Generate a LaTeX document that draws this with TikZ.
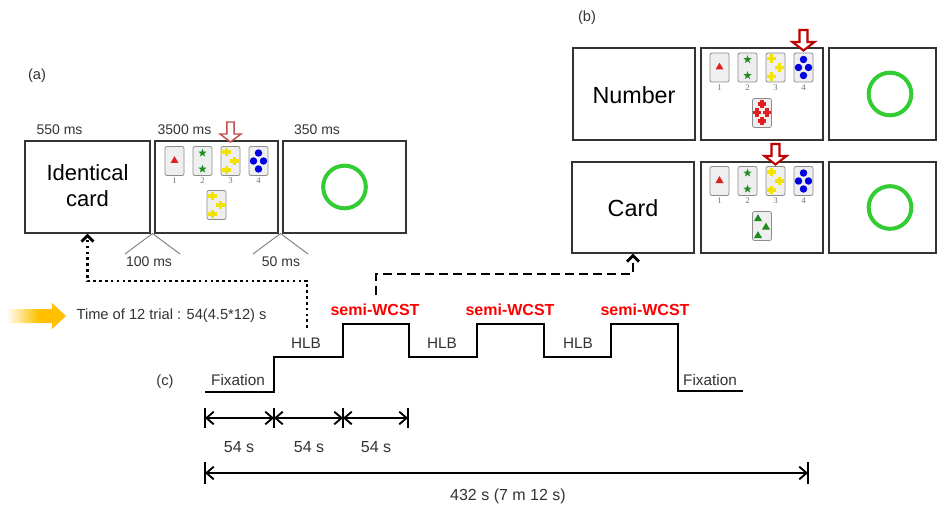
\documentclass[tikz,border=0pt]{standalone}
\usepackage{fontspec}
\setmainfont{Liberation Sans}
\newfontfamily\numfont{Liberation Serif}
\usetikzlibrary{arrows.meta,calc}
\definecolor{boxgray}{HTML}{333333}
\definecolor{txtgray}{HTML}{333333}
\definecolor{cardfill}{HTML}{EFEFEF}
\definecolor{cardedge}{HTML}{8C8C8C}
\definecolor{ringgreen}{HTML}{33CC33}
\definecolor{symred}{HTML}{E02020}
\definecolor{symgreen}{HTML}{1E8C1E}
\definecolor{symyellow}{HTML}{F2E400}
\definecolor{symblue}{HTML}{0000E0}
\definecolor{arrowA}{HTML}{C0504D}
\definecolor{arrowB}{HTML}{C00000}
\definecolor{fadeorange}{HTML}{FFC000}
\definecolor{wedgegray}{HTML}{7F7F7F}
\definecolor{semired}{HTML}{FF0000}
\pgfdeclarehorizontalshading{yelfade}{100bp}{color(0bp)=(white); color(25bp)=(white); color(52bp)=(fadeorange); color(100bp)=(fadeorange)}
\tikzset{
  screen/.style={draw=boxgray, line width=1.1pt, fill=white, inner sep=0pt, minimum height=69pt},
  lbl/.style={text=txtgray, font=\fontsize{11}{13}\selectfont, inner sep=1pt},
  tlbl/.style={text=txtgray, font=\fontsize{10.5}{12}\selectfont, inner sep=1pt},
  biglbl/.style={font=\fontsize{16.5}{19.5}\selectfont, align=center},
  steplbl/.style={text=txtgray, font=\fontsize{11.5}{13}\selectfont, inner sep=1pt},
  semilbl/.style={text=semired, font=\bfseries\fontsize{12}{14}\selectfont, inner sep=1pt},
  dimlbl/.style={text=txtgray, font=\fontsize{12}{14}\selectfont, inner sep=1pt},
  cardnum/.style={text=txtgray!70, font=\numfont\fontsize{6.5}{7}\selectfont, inner sep=0pt},
  wedge/.style={draw=wedgegray, line width=0.7pt},
  ring/.style={draw=ringgreen, line width=3pt},
  timeline/.style={draw=black, line width=2.2pt, line join=miter},
  dimline/.style={draw=black, line width=1.4pt, {Straight Barb[length=5.5pt,width=9.5pt]}-{Straight Barb[length=5.5pt,width=9.5pt]}},
  dimtick/.style={draw=black, line width=1.4pt},
  dotconn/.style={draw=black, line width=2.1pt, dash pattern=on 2pt off 2.4pt, -{Straight Barb[length=4.5pt,width=9pt,line width=2pt]}},
  dashconn/.style={draw=black, line width=2.1pt, dash pattern=on 7pt off 3.5pt, -{Straight Barb[length=4.5pt,width=9pt,line width=2pt]}},
  pics/card/.style={code={\draw[cardedge, fill=cardfill, rounded corners=1.5pt, line width=0.6pt] (-9.5,-14.5) rectangle (9.5,14.5);}},
  pics/trisym/.style={code={\fill[#1] (0,-3.8) -- (4,3) -- (-4,3) -- cycle;}},
  pics/starsym/.style={code={\fill[symgreen] (-90:4.3) -- (-54:1.8) -- (-18:4.3) -- (18:1.8) -- (54:4.3) -- (90:1.8) -- (126:4.3) -- (162:1.8) -- (198:4.3) -- (234:1.8) -- cycle;}},
  pics/plussym/.style={code={\fill[#1] (-1.7,-4.4) rectangle (1.7,4.4); \fill[#1] (-4.4,-1.7) rectangle (4.4,1.7);}},
  pics/dotsym/.style={code={\fill[symblue] (0,0) circle[radius=2.8pt];}},
  pics/hollowA/.style={code={\draw[arrowA, fill=white, line width=1.1pt, line join=miter] (-3.7,0) -- (3.7,0) -- (3.7,12) -- (10.5,12) -- (0,20) -- (-10.5,12) -- (-3.7,12) -- cycle;}},
  pics/hollowB/.style={code={\draw[arrowB, fill=white, line width=1.6pt, line join=miter] (-4,0) -- (4,0) -- (4,12) -- (11,12) -- (0,20.5) -- (-11,12) -- (-4,12) -- cycle;}}
}
\newcommand{\stimrow}[3]{%
  \foreach \k in {0,1,2,3} {\pic at ({#2+28*\k},#3) {card};}
  \pic at (#2,{#3-1}) {trisym=symred};
  \pic at ({#2+28},{#3-8}) {starsym};
  \pic at ({#2+28},{#3+8}) {starsym};
  \pic at ({#2+52},{#3-9}) {plussym=symyellow};
  \pic at ({#2+60},#3) {plussym=symyellow};
  \pic at ({#2+52},{#3+9}) {plussym=symyellow};
  \pic at ({#2+84},{#3-8}) {dotsym};
  \pic at ({#2+79},#3) {dotsym};
  \pic at ({#2+89},#3) {dotsym};
  \pic at ({#2+84},{#3+8}) {dotsym};
  \foreach \k in {1,2,3,4} {\node[cardnum] (#1n\k) at ({#2+28*(\k-1)},{#3+20}) {\k};}
}
\begin{document}
\begin{tikzpicture}[x=0.75pt,y=-0.75pt]
\useasboundingbox (0,0) rectangle (940,510);
\fill[white] (0,0) rectangle (940,510);

% ---------- panel labels
\node[lbl] (la) at (37,76) {(a)};
\node[lbl] (lb) at (587,18) {(b)};
\node[lbl] (lc) at (165,382) {(c)};

% ---------- panel (a)
\node[screen, minimum width=93.75pt] (ident) at (87.5,187) {};
\node[biglbl] (identtxt) at (87.5,186) {Identical\\card};
\node[screen, minimum width=92.25pt] (stimA) at (216.5,187) {};
\node[screen, minimum width=92.25pt] (fbA) at (344.5,187) {};
\node[tlbl] (t550) at (59.5,130) {550 ms};
\node[tlbl] (t3500) at (184.5,130) {3500 ms};
\node[tlbl] (t350) at (317,130) {350 ms};
\draw[ring] (fbA.center) circle[radius=16pt];
\stimrow{a}{174.5}{161}
\pic at (216.5,205) {card};
\pic at (212.5,196) {plussym=symyellow};
\pic at (220.5,205) {plussym=symyellow};
\pic at (212.5,214) {plussym=symyellow};
\pic at (230.5,122) {hollowA};

\draw[wedge] (125,254) -- (152.5,233.5) -- (180,254);
\draw[wedge] (253,254) -- (280.5,233.5) -- (308,254);
\node[tlbl] (g100) at (149,262) {100 ms};
\node[tlbl] (g50) at (281,262) {50 ms};

% ---------- panel (b)
\node[screen, minimum width=91.5pt] (numB) at (634,94) {};
\node[font=\fontsize{17.5}{20}\selectfont] (numtxt) at (634,95) {Number};
\node[screen, minimum width=91.5pt] (stimB1) at (762,94) {};
\node[screen, minimum width=80.25pt] (fbB1) at (882.5,94) {};
\node[screen, minimum width=91.5pt, minimum height=68.25pt] (cardB) at (633,207.5) {};
\node[font=\fontsize{17.5}{20}\selectfont] (cardtxt) at (633,208) {Card};
\node[screen, minimum width=91.5pt, minimum height=68.25pt] (stimB2) at (762,207.5) {};
\node[screen, minimum width=80.25pt, minimum height=68.25pt] (fbB2) at (882.5,207.5) {};
\draw[ring] ($(fbB1.center)+(7.5,0)$) circle[radius=16pt];
\draw[ring] ($(fbB2.center)+(7.5,0)$) circle[radius=16pt];

\stimrow{b}{719.5}{67.5}
\pic at (762,113) {card};
\pic at (762,104) {plussym=symred};
\pic at (757,112.5) {plussym=symred};
\pic at (767,112.5) {plussym=symred};
\pic at (762,121) {plussym=symred};
\pic at (803.5,30) {hollowB};

\stimrow{c}{719.5}{181}
\pic at (762,226) {card};
\pic at (758,218) {trisym=symgreen};
\pic at (766,226.5) {trisym=symgreen};
\pic at (758,235) {trisym=symgreen};
\pic at (775.5,144) {hollowB};

% ---------- trial time note
\shade[shading=yelfade] (6,309) -- (52,309) -- (52,303) -- (66,316) -- (52,329) -- (52,323) -- (6,323) -- cycle;
\node[lbl, anchor=west] (trial) at (75,316) {Time of 12 trial : 54(4.5*12) s};

% ---------- panel (c) timeline
\draw[timeline] (205,392) -- (274,392) -- (274,357) -- (343,357) -- (343,324) -- (409,324) -- (409,357)
  -- (477,357) -- (477,324) -- (544,324) -- (544,357) -- (611,357) -- (611,324) -- (678,324)
  -- (678,391) -- (743,391);
\node[steplbl] (fix1) at (238,380) {Fixation};
\node[steplbl] (hlb1) at (306,343) {HLB};
\node[semilbl] (sw1) at (375,310) {semi-WCST};
\node[steplbl] (hlb2) at (442,343) {HLB};
\node[semilbl] (sw2) at (510,310) {semi-WCST};
\node[steplbl] (hlb3) at (578,343) {HLB};
\node[semilbl] (sw3) at (645,310) {semi-WCST};
\node[steplbl] (fix2) at (710,380) {Fixation};

% connectors
\coordinate (dotstart) at (307,328);
\draw[dotconn] (dotstart) -- (307,281) -| (ident.south);
\coordinate (dashstart) at (376,295);
\draw[dashconn] (dashstart) -- (376,274) -| (cardB.south);

% dimension lines
\coordinate (d0) at (205,418);
\coordinate (d1) at (274,418);
\coordinate (d2) at (343,418);
\coordinate (d3) at (408,418);
\foreach \p in {d0,d1,d2,d3} {\draw[dimtick] ($(\p)+(0,-10)$) -- ($(\p)+(0,10)$);}
\draw[dimline] (d0) -- (d1);
\draw[dimline] (d1) -- (d2);
\draw[dimline] (d2) -- (d3);
\node[dimlbl] (s1) at (239,447) {54 s};
\node[dimlbl] (s2) at (309,447) {54 s};
\node[dimlbl] (s3) at (376,447) {54 s};
\coordinate (e0) at (205,473);
\coordinate (e1) at (808,473);
\foreach \p in {e0,e1} {\draw[dimtick] ($(\p)+(0,-11)$) -- ($(\p)+(0,11)$);}
\draw[dimline] (e0) -- (e1);
\node[dimlbl] (total) at (508,496) {432 s (7 m 12 s)};
\end{tikzpicture}
\end{document}
